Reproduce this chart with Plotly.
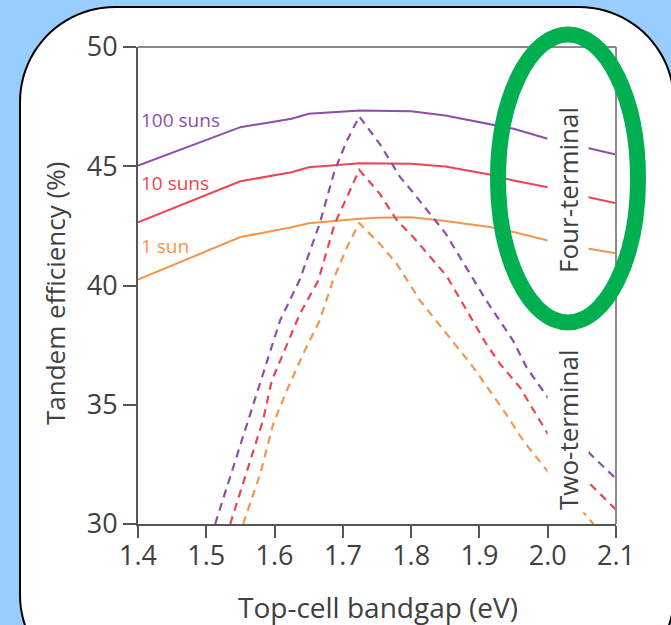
import numpy as np
import plotly.graph_objects as go

# ---------------- data ----------------
bandgap_4t = [1.40, 1.55, 1.625, 1.65, 1.725, 1.75, 1.80, 1.85, 1.915, 1.95, 2.00, 2.06, 2.10]
eff_4t_100 = [45.03, 46.64, 46.99, 47.20, 47.34, 47.34, 47.31, 47.13, 46.78, 46.57, 46.15, 45.77, 45.49]
eff_4t_10 = [42.65, 44.37, 44.75, 44.96, 45.13, 45.12, 45.10, 44.99, 44.65, 44.40, 44.12, 43.70, 43.45]
eff_4t_1 = [40.25, 42.03, 42.44, 42.61, 42.80, 42.84, 42.86, 42.70, 42.45, 42.24, 41.89, 41.54, 41.35]

bandgap_2t_100 = [1.513, 1.554, 1.583, 1.608, 1.637, 1.666, 1.688, 1.706, 1.724, 1.754, 1.784,
                  1.80, 1.85, 1.910, 1.949, 1.969, 2.003, 2.062, 2.10]
eff_2t_100 = [30.0, 33.64, 36.30, 38.53, 40.25, 42.59, 44.82, 46.08, 47.09, 45.94, 44.54,
              44.0, 42.2, 39.37, 37.70, 36.57, 35.18, 32.94, 31.90]

bandgap_2t_10 = [1.535, 1.566, 1.583, 1.596, 1.620, 1.637, 1.664, 1.688, 1.706, 1.724, 1.754,
                 1.779, 1.803, 1.852, 1.910, 1.930, 1.959, 2.003, 2.062, 2.10]
eff_2t_10 = [30.0, 32.80, 34.34, 36.02, 37.69, 38.81, 40.21, 42.59, 43.70, 44.85, 43.85,
             42.73, 42.03, 40.40, 37.55, 36.72, 35.74, 33.64, 31.68, 30.60]

bandgap_2t_1 = [1.554, 1.579, 1.598, 1.618, 1.642, 1.666, 1.686, 1.706, 1.724, 1.754, 1.779,
                1.813, 1.852, 1.891, 1.939, 1.964, 2.003, 2.067]
eff_2t_1 = [30.0, 32.10, 34.20, 35.60, 37.14, 38.53, 40.25, 41.60, 42.62, 41.75, 40.91,
            39.37, 37.97, 36.57, 34.61, 33.50, 32.10, 30.0]

x_ticks = [1.4, 1.5, 1.6, 1.7, 1.8, 1.9, 2.0, 2.1]
x_tick_labels = ["1.4", "1.5", "1.6", "1.7", "1.8", "1.9", "2.0", "2.1"]
y_ticks = [30, 35, 40, 45, 50]

series_labels = ["100 suns", "10 suns", "1 sun"]
label_y = [46.96, 44.28, 41.64]

PURPLE = "#8E4DAA"
RED = "#EE4452"
ORANGE = "#F7944C"
TEXT = "#404040"
FONT = "Open Sans"

# ---------------- figure ----------------
W, H = 671, 625
ML, MR, MT, MB = 138, 55, 47, 101
PW = W - ML - MR
PH = H - MT - MB


def px(x):
    return (x - ML) / PW


def py(y):
    return (H - MB - y) / PH


fig = go.Figure()

for xs, ys, c in [(bandgap_4t, eff_4t_100, PURPLE), (bandgap_4t, eff_4t_10, RED), (bandgap_4t, eff_4t_1, ORANGE)]:
    fig.add_trace(go.Scatter(x=xs, y=ys, mode="lines", line=dict(color=c, width=2), showlegend=False,
                             hoverinfo="skip"))

for xs, ys, c in [(bandgap_2t_100, eff_2t_100, PURPLE), (bandgap_2t_10, eff_2t_10, RED), (bandgap_2t_1, eff_2t_1, ORANGE)]:
    fig.add_trace(go.Scatter(x=xs, y=ys, mode="lines", line=dict(color=c, width=2.2, dash="8px,6px"),
                             showlegend=False, hoverinfo="skip"))


# rounded white panel
def rounded_path(x0, y0, x1, y1, r, n=24):
    pts = []
    corners = [
        (x0 + r, y0 + r, np.pi, 1.5 * np.pi),
        (x1 - r, y0 + r, 1.5 * np.pi, 2 * np.pi),
        (x1 - r, y1 - r, 0, 0.5 * np.pi),
        (x0 + r, y1 - r, 0.5 * np.pi, np.pi),
    ]
    for cx, cy, a0, a1 in corners:
        for t in np.linspace(a0, a1, n):
            pts.append((cx + r * np.cos(t), cy + r * np.sin(t)))
    return "M " + " L ".join(f"{px(a):.5f},{py(b):.5f}" for a, b in pts) + " Z"


fig.add_shape(type="path", path=rounded_path(20, 7, 674, 690, 95), xref="paper", yref="paper",
              fillcolor="white", line=dict(color="black", width=2), layer="below")

# top and right frame lines
fig.add_shape(type="line", xref="paper", yref="paper", x0=0, x1=1, y0=1, y1=1,
              line=dict(color="#8a8a8a", width=2))
fig.add_shape(type="line", xref="paper", yref="paper", x0=1, x1=1, y0=0, y1=1,
              line=dict(color="#8a8a8a", width=2))

# series labels
for txt, yy, c in zip(series_labels, label_y, [PURPLE, RED, ORANGE]):
    fig.add_annotation(x=1.4, y=yy, xref="x", yref="y", text=txt, showarrow=False, xanchor="left",
                       yanchor="middle", xshift=1, font=dict(family=FONT, size=19, color=c))

# terminal labels
for txt, yc in [("Four-terminal", 190), ("Two-terminal", 430)]:
    fig.add_annotation(x=px(568), y=py(yc), xref="paper", yref="paper", text=txt, textangle=-90,
                       xanchor="center", yanchor="middle", showarrow=False, bgcolor="white", borderpad=2,
                       font=dict(family=FONT, size=26, color=TEXT))

# axis titles
fig.add_annotation(x=px(55), y=py(294), xref="paper", yref="paper", text="Tandem efficiency (%)",
                   textangle=-90, xanchor="center", yanchor="middle", showarrow=False,
                   font=dict(family=FONT, size=26, color=TEXT))
fig.add_annotation(x=px(378), y=py(607), xref="paper", yref="paper", text="Top-cell bandgap (eV)",
                   xanchor="center", yanchor="middle", showarrow=False,
                   font=dict(family=FONT, size=28, color=TEXT))

# green ellipse highlight
fig.add_shape(type="circle", xref="paper", yref="paper", x0=px(498), x1=px(638), y0=py(322.5), y1=py(34.5),
              line=dict(color="#00B050", width=16), layer="above")

fig.update_layout(
    width=W, height=H,
    margin=dict(l=ML, r=MR, t=MT, b=MB),
    paper_bgcolor="#99CCFF",
    plot_bgcolor="rgba(0,0,0,0)",
    font=dict(family=FONT, color=TEXT),
    xaxis=dict(range=[1.4, 2.1], tickvals=x_ticks, ticktext=x_tick_labels, showgrid=False, zeroline=False,
               ticks="outside", ticklen=12, tickwidth=2, tickcolor="#555", showline=True, linecolor="#555",
               linewidth=2, ticklabelstandoff=-5, tickfont=dict(family=FONT, size=27, color=TEXT)),
    yaxis=dict(range=[30, 50], tickvals=y_ticks, showgrid=False, zeroline=False,
               ticks="outside", ticklen=13, tickwidth=2, tickcolor="#555", showline=True, linecolor="#555",
               linewidth=2, tickfont=dict(family=FONT, size=27, color=TEXT)),
)

fig.write_html("out.html", config={"displayModeBar": False},
               post_script="document.body.style.margin='0px';document.body.style.padding='0px';"
                           "document.body.style.overflow='hidden';")
